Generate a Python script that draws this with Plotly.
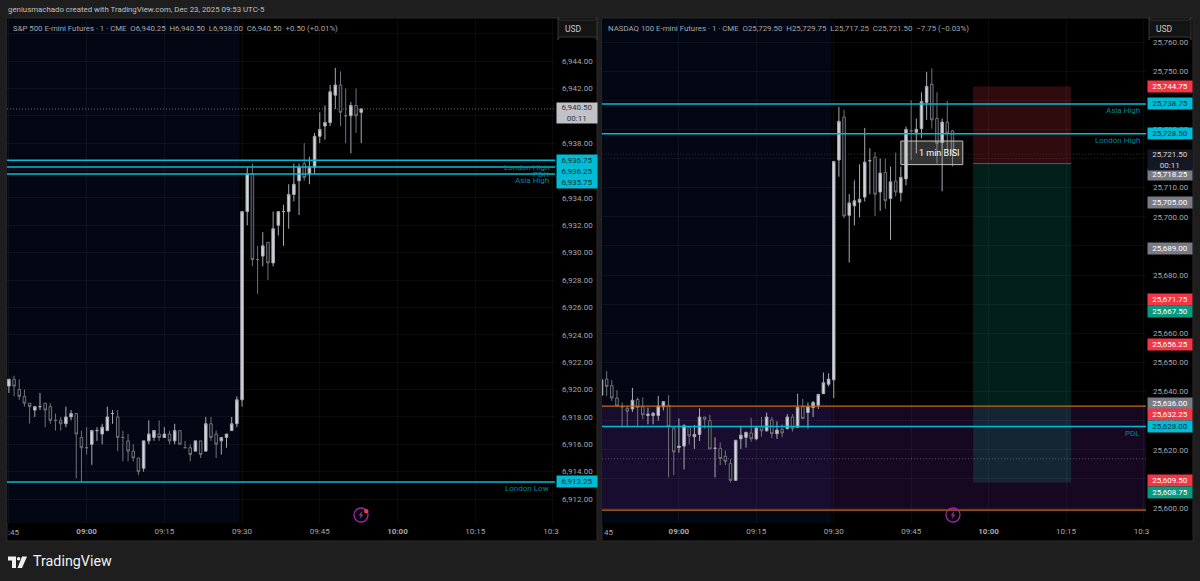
import pandas as pd
import plotly.graph_objects as go
from plotly.subplots import make_subplots

W = 1200
H = 581

# 1分足 08:45 から 09:53 まで
times = pd.date_range("2025-12-23 08:45", periods=69, freq="min")

# S&P 500
es_open = [6920.25, 6920.75, 6920.0, 6919.5, 6919.0, 6918.5, 6918.75, 6919.0, 6918.75, 6917.75, 6917.75, 6917.5, 6918.0, 6918.25, 6916.5, 6915.75, 6916.0, 6917.0, 6916.75, 6917.0, 6918.25, 6918.0, 6916.5, 6916.25, 6915.5, 6915.0, 6914.25, 6916.25, 6916.5, 6916.75, 6916.5, 6916.75, 6916.25, 6917.0, 6915.75, 6915.75, 6915.5, 6916.25, 6915.5, 6917.5, 6916.75, 6916.25, 6916.5, 6917.0, 6917.5, 6919.25, 6933.0, 6935.75, 6929.5, 6929.75, 6930.75, 6929.25, 6932.0, 6933.0, 6933.0, 6934.25, 6935.25, 6936.5, 6935.75, 6936.25, 6938.5, 6939.25, 6939.5, 6941.5, 6942.25, 6940.0, 6940.0, 6940.75, 6940.25]
es_high = [6920.75, 6921.0, 6920.75, 6920.0, 6919.0, 6918.75, 6919.75, 6919.0, 6919.0, 6918.25, 6918.0, 6918.75, 6918.5, 6918.25, 6917.0, 6917.25, 6917.0, 6917.25, 6917.5, 6918.75, 6918.5, 6918.5, 6917.0, 6916.75, 6916.0, 6915.0, 6916.25, 6917.75, 6917.0, 6917.75, 6917.25, 6917.0, 6917.5, 6917.0, 6916.25, 6916.0, 6916.25, 6916.25, 6918.0, 6918.0, 6917.0, 6916.5, 6916.75, 6918.0, 6919.5, 6933.0, 6936.25, 6936.5, 6930.5, 6931.5, 6930.75, 6933.0, 6933.0, 6933.5, 6935.0, 6936.5, 6936.5, 6938.0, 6937.0, 6938.75, 6940.25, 6940.75, 6942.25, 6943.5, 6943.25, 6942.0, 6941.0, 6942.0, 6940.5]
es_low = [6919.75, 6919.5, 6919.25, 6918.75, 6917.5, 6918.0, 6918.5, 6917.25, 6917.5, 6917.0, 6917.0, 6917.25, 6917.75, 6913.5, 6913.25, 6915.25, 6914.5, 6916.25, 6916.0, 6917.0, 6917.5, 6915.5, 6914.75, 6914.75, 6914.75, 6913.75, 6914.0, 6916.0, 6916.25, 6916.25, 6916.5, 6916.0, 6916.0, 6916.0, 6915.75, 6914.75, 6915.5, 6915.0, 6915.5, 6916.25, 6915.0, 6915.25, 6915.75, 6917.0, 6917.25, 6918.75, 6932.0, 6929.0, 6927.0, 6929.0, 6928.0, 6929.0, 6931.25, 6930.5, 6931.75, 6933.75, 6932.75, 6935.25, 6935.0, 6935.75, 6938.0, 6938.25, 6939.25, 6940.5, 6939.25, 6938.0, 6937.25, 6938.75, 6938.0]
es_close = [6920.75, 6920.25, 6919.5, 6919.0, 6918.75, 6918.75, 6918.75, 6918.5, 6917.75, 6917.75, 6917.5, 6918.0, 6918.25, 6916.75, 6915.75, 6915.75, 6917.0, 6917.0, 6917.25, 6918.0, 6918.25, 6916.5, 6916.5, 6915.5, 6915.0, 6914.0, 6916.25, 6916.75, 6917.0, 6916.5, 6916.75, 6916.25, 6917.0, 6916.0, 6915.75, 6915.25, 6916.25, 6915.25, 6917.5, 6916.5, 6916.0, 6916.5, 6916.75, 6917.5, 6919.25, 6933.0, 6935.75, 6929.5, 6929.5, 6930.5, 6929.25, 6931.75, 6933.0, 6933.0, 6934.25, 6935.0, 6936.25, 6935.5, 6936.25, 6938.5, 6939.0, 6939.5, 6941.75, 6942.25, 6940.25, 6940.0, 6940.75, 6940.0, 6940.5]

# NASDAQ 100
nq_open = [25638.75, 25644.25, 25642.0, 25637.75, 25634.75, 25634.25, 25634.0, 25637.25, 25634.75, 25631.75, 25631.75, 25631.75, 25634.75, 25635.25, 25627.25, 25620.75, 25621.25, 25627.75, 25624.5, 25625.25, 25631.25, 25630.0, 25620.5, 25620.5, 25617.75, 25615.25, 25609.5, 25623.75, 25624.25, 25625.75, 25623.75, 25628.0, 25626.5, 25630.25, 25625.5, 25627.0, 25627.25, 25631.25, 25627.75, 25634.75, 25632.75, 25634.5, 25635.25, 25639.25, 25642.5, 25644.0, 25719.5, 25734.25, 25700.5, 25703.75, 25705.0, 25706.75, 25719.25, 25720.5, 25708.5, 25715.25, 25706.25, 25712.25, 25708.25, 25713.0, 25729.5, 25729.0, 25730.25, 25739.25, 25745.5, 25733.75, 25725.5, 25732.5, 25729.5]
nq_high = [25645.0, 25647.0, 25644.0, 25640.5, 25636.25, 25634.75, 25641.25, 25638.0, 25638.0, 25634.5, 25633.0, 25638.5, 25636.75, 25638.75, 25628.0, 25630.75, 25628.75, 25628.0, 25628.5, 25634.25, 25631.25, 25632.0, 25624.25, 25622.5, 25619.75, 25616.75, 25623.25, 25628.25, 25626.0, 25631.0, 25628.0, 25631.25, 25632.75, 25631.25, 25629.75, 25628.75, 25632.25, 25632.25, 25639.25, 25637.5, 25636.25, 25636.75, 25639.25, 25646.5, 25646.25, 25719.0, 25737.75, 25736.75, 25707.75, 25712.5, 25718.0, 25730.5, 25723.5, 25722.25, 25720.0, 25720.0, 25717.25, 25722.0, 25717.25, 25731.0, 25740.0, 25733.75, 25742.75, 25749.75, 25751.0, 25742.75, 25733.75, 25739.75, 25729.75]
nq_low = [25636.75, 25638.5, 25636.75, 25634.75, 25628.0, 25628.0, 25633.0, 25628.25, 25630.5, 25628.75, 25628.75, 25630.0, 25633.5, 25610.5, 25611.25, 25619.0, 25613.25, 25621.75, 25620.25, 25623.0, 25627.25, 25620.25, 25610.5, 25614.75, 25614.75, 25608.75, 25609.25, 25620.25, 25620.75, 25622.75, 25623.25, 25624.5, 25626.25, 25624.0, 25623.75, 25624.25, 25627.0, 25626.25, 25627.5, 25630.5, 25627.25, 25631.25, 25634.0, 25639.25, 25641.75, 25637.75, 25713.75, 25699.5, 25684.25, 25697.0, 25699.75, 25705.25, 25707.75, 25700.25, 25702.0, 25702.75, 25692.0, 25707.0, 25705.25, 25710.75, 25719.5, 25721.75, 25727.0, 25733.25, 25730.25, 25718.25, 25708.75, 25721.75, 25717.25]
nq_close = [25644.0, 25641.75, 25637.75, 25635.0, 25634.75, 25633.25, 25637.0, 25634.5, 25632.0, 25632.25, 25632.5, 25635.0, 25636.5, 25628.0, 25619.25, 25621.25, 25628.25, 25624.75, 25625.25, 25631.25, 25630.5, 25620.25, 25620.5, 25617.0, 25616.0, 25609.5, 25623.25, 25625.0, 25626.0, 25623.75, 25627.5, 25626.5, 25631.25, 25625.5, 25626.75, 25625.75, 25631.25, 25627.25, 25634.5, 25630.75, 25634.75, 25636.25, 25639.0, 25643.0, 25644.25, 25719.0, 25732.75, 25700.25, 25704.75, 25705.5, 25706.0, 25718.75, 25719.25, 25707.75, 25715.0, 25705.5, 25712.0, 25708.5, 25713.5, 25730.0, 25729.5, 25730.0, 25739.5, 25744.75, 25733.25, 25725.25, 25732.5, 25728.75, 25721.5]

# ラベル: (価格, 文字, 背景色, 文字色, ずらし)
CYAN = "#00bcd4"
RED = "#f23645"
TEAL = "#089981"
GRAY = "#787b86"

es_levels = [6936.75, 6936.25, 6935.75, 6913.25]
es_level_names = ["London High", "PDH", "Asia High", "London Low"]
es_tags = [
    (6936.75, "6,936.75", CYAN, "#06323a", 0),
    (6936.25, "6,936.25", CYAN, "#06323a", -4.5),
    (6935.75, "6,935.75", CYAN, "#06323a", -9),
    (6913.25, "6,913.25", CYAN, "#06323a", 0),
]

nq_levels = [25738.75, 25728.5, 25628.0]
nq_level_names = ["Asia High", "London High", "PDL"]
nq_tags = [
    (25744.75, "25,744.75", RED, "#ffffff", 0),
    (25738.75, "25,738.75", CYAN, "#06323a", 0),
    (25728.5, "25,728.50", CYAN, "#06323a", 0),
    (25718.25, "25,718.25", GRAY, "#ffffff", -11),
    (25705.0, "25,705.00", GRAY, "#ffffff", 0),
    (25689.0, "25,689.00", GRAY, "#ffffff", 0),
    (25671.75, "25,671.75", RED, "#ffffff", 0),
    (25667.5, "25,667.50", TEAL, "#ffffff", 0),
    (25656.25, "25,656.25", RED, "#ffffff", 0),
    (25636.0, "25,636.00", GRAY, "#ffffff", 0),
    (25632.25, "25,632.25", RED, "#ffffff", 0),
    (25628.0, "25,628.00", CYAN, "#06323a", 0),
    (25609.5, "25,609.50", RED, "#ffffff", 0),
    (25608.75, "25,608.75", TEAL, "#ffffff", -10),
]

# 時間軸
tick_times = ["2025-12-23 08:45", "2025-12-23 09:00", "2025-12-23 09:15", "2025-12-23 09:30", "2025-12-23 09:45", "2025-12-23 10:00", "2025-12-23 10:15", "2025-12-23 10:30"]
tick_text = ["", "<b>09:00</b>", "09:15", "09:30", "09:45", "<b>10:00</b>", "10:15", "10:3\u00a0\u00a0"]

FONT = "Roboto"
SIZE = 8
AXIS_TEXT = "#a8a8a8"
GRID = "rgba(255,255,255,0.045)"


def px(x):
    return x / W


def py(y):
    return 1 - y / H


fig = make_subplots(rows=1, cols=2)

candle_style = dict(
    increasing=dict(line=dict(color="#a8aab2", width=1), fillcolor="#d4d6dc"),
    decreasing=dict(line=dict(color="#70727b", width=1), fillcolor="#0d0f16"),
    whiskerwidth=0,
    showlegend=False,
)
fig.add_trace(go.Candlestick(x=times, open=es_open, high=es_high, low=es_low, close=es_close, **candle_style), row=1, col=1)
fig.add_trace(go.Candlestick(x=times, open=nq_open, high=nq_high, low=nq_low, close=nq_close, **candle_style), row=1, col=2)

x_style = dict(
    type="date",
    automargin=False,
    rangeslider_visible=False,
    tickmode="array",
    tickvals=tick_times,
    ticktext=tick_text,
    tickangle=0,
    showgrid=True,
    gridcolor=GRID,
    gridwidth=1,
    zeroline=False,
    showline=False,
    ticks="",
    tickfont=dict(family=FONT, size=SIZE, color=AXIS_TEXT),
    ticklabelstandoff=2,
)
y_style = dict(
    side="right",
    automargin=False,
    showgrid=True,
    gridcolor=GRID,
    gridwidth=1,
    zeroline=False,
    showline=False,
    ticks="",
    tickformat=",.2f",
    tickfont=dict(family=FONT, size=SIZE, color=AXIS_TEXT),
    ticklabelstandoff=6,
)

fig.update_layout(
    width=W,
    height=H,
    margin=dict(l=0, r=0, t=0, b=0),
    paper_bgcolor="#1e1e1e",
    plot_bgcolor="#000000",
    showlegend=False,
    xaxis=dict(domain=[px(7), px(555)], range=["2025-12-23 08:44:38", "2025-12-23 10:30:24"], **x_style),
    xaxis2=dict(domain=[px(602), px(1146)], range=["2025-12-23 08:45:06", "2025-12-23 10:30:30"], **x_style),
    yaxis=dict(domain=[py(523), py(19)], range=[6910.25, 6947.07], dtick=2, **y_style),
    yaxis2=dict(domain=[py(523), py(19)], range=[25594.85, 25767.9], dtick=10, **y_style),
)


def paper_rect(x0, y0, x1, y1, fill, line="rgba(0,0,0,0)", layer="below"):
    fig.add_shape(type="rect", xref="paper", yref="paper", x0=px(x0), x1=px(x1), y0=py(y0), y1=py(y1),
                  fillcolor=fill, line=dict(color=line, width=1), layer=layer)


def label(x, y, text, size=SIZE, color=AXIS_TEXT, anchor="left", **kwargs):
    fig.add_annotation(xref="paper", yref="paper", x=px(x), y=py(y), text=text, showarrow=False,
                       xanchor=anchor, yanchor="middle", borderpad=0,
                       font=dict(family=FONT, size=size, color=color), **kwargs)


def price_tag(ya, left, width, price, text, bg, fg, shift):
    fig.add_annotation(xref="paper", yref=ya, x=px(left), y=price, text=text, showarrow=False,
                       xanchor="left", yanchor="middle", yshift=shift, width=width, height=11,
                       align="center", bgcolor=bg, borderpad=0,
                       font=dict(family=FONT, size=SIZE, color=fg))


def round_box(x0, y0, x1, y1, r=3):
    # 角丸の箱
    p = "M {} {} L {} {} Q {} {} {} {} L {} {} Q {} {} {} {} L {} {} Q {} {} {} {} L {} {} Q {} {} {} {} Z".format(
        px(x0 + r), py(y0), px(x1 - r), py(y0), px(x1), py(y0), px(x1), py(y0 + r),
        px(x1), py(y1 - r), px(x1), py(y1), px(x1 - r), py(y1),
        px(x0 + r), py(y1), px(x0), py(y1), px(x0), py(y1 - r),
        px(x0), py(y0 + r), px(x0), py(y0), px(x0 + r), py(y0))
    fig.add_shape(type="path", xref="paper", yref="paper", path=p, fillcolor="#141414",
                  line=dict(color="#363636", width=1), layer="above")


# ペイン枠
paper_rect(7, 18, 597, 541, "#000000", line="#2a2a2a")
paper_rect(602, 18, 1193, 541, "#000000", line="#2a2a2a")

# 時間外の背景
for xr, yr in [("x", "y"), ("x2", "y2")]:
    fig.add_shape(type="rect", xref=xr, yref=yr + " domain", x0="2025-12-23 08:40", x1="2025-12-23 09:29:30",
                  y0=0, y1=1, fillcolor="#030713", line_width=0, layer="below")

# NQ 紫ゾーン
zone_top = 25635.0
zone_bottom = 25599.25
fig.add_shape(type="rect", xref="x2", yref="y2", x0="2025-12-23 08:45:06", x1="2025-12-23 10:30:30", y0=zone_bottom, y1=zone_top,
              fillcolor="rgba(90,30,130,0.25)", line_width=0, layer="below")
for level in [zone_top, zone_bottom]:
    fig.add_shape(type="line", xref="x2", yref="y2", x0="2025-12-23 08:45:06", x1="2025-12-23 10:30:30", y0=level, y1=level,
                  line=dict(color="#c46a15", width=1.2), layer="above")
fig.add_shape(type="line", xref="x2", yref="y2", x0="2025-12-23 08:45:06", x1="2025-12-23 10:30:30", y0=25616.9, y1=25616.9,
              line=dict(color="#55505f", width=1, dash="1px,2px"), layer="below")

# ロングポジション
long_start = "2025-12-23 09:57"
long_end = "2025-12-23 10:16"
long_stop = 25744.75
long_entry = 25718.25
long_target = 25608.75
fig.add_shape(type="rect", xref="x2", yref="y2", x0=long_start, x1=long_end, y0=long_entry, y1=long_stop,
              fillcolor="rgba(242,54,69,0.2)", line_width=0, layer="below")
fig.add_shape(type="rect", xref="x2", yref="y2", x0=long_start, x1=long_end, y0=long_target, y1=long_entry,
              fillcolor="rgba(8,153,129,0.2)", line_width=0, layer="below")
fig.add_shape(type="line", xref="x2", yref="y2", x0=long_start, x1=long_end, y0=long_entry, y1=long_entry,
              line=dict(color="#5a5c64", width=1), layer="above")

# 現在値の点線
fig.add_shape(type="line", xref="x", yref="y", x0="2025-12-23 08:44:38", x1="2025-12-23 10:30:24", y0=6940.5, y1=6940.5,
              line=dict(color="#6a6a6a", width=1, dash="1px,2px"), layer="below")
fig.add_shape(type="line", xref="x2", yref="y2", x0="2025-12-23 08:45:06", x1="2025-12-23 10:30:30", y0=25721.5, y1=25721.5,
              line=dict(color="#2e2e2e", width=1, dash="1px,2px"), layer="below")

# 水平ライン
for level in es_levels:
    fig.add_shape(type="line", xref="x", yref="y", x0="2025-12-23 08:44:38", x1="2025-12-23 10:30:24", y0=level, y1=level,
                  line=dict(color=CYAN, width=1.5), layer="above")
for level in nq_levels:
    fig.add_shape(type="line", xref="x2", yref="y2", x0="2025-12-23 08:45:06", x1="2025-12-23 10:30:30", y0=level, y1=level,
                  line=dict(color=CYAN, width=1.5), layer="above")

# ライン名
for level, name in zip(es_levels, es_level_names):
    fig.add_annotation(xref="paper", yref="y", x=px(551), y=level, yshift=-7, text=name, showarrow=False,
                       xanchor="right", yanchor="middle", font=dict(family=FONT, size=SIZE, color="#00879a"))
for level, name in zip(nq_levels, nq_level_names):
    fig.add_annotation(xref="paper", yref="y2", x=px(1142), y=level, yshift=-7, text=name, showarrow=False,
                       xanchor="right", yanchor="middle", font=dict(family=FONT, size=SIZE, color="#00879a"))

# 1 min BISI
fig.add_shape(type="rect", xref="x2", yref="y2", x0="2025-12-23 09:43", x1="2025-12-23 09:55", y0=25717.9, y1=25726,
              fillcolor="rgba(200,200,200,0.25)", line=dict(color="#c4c4c4", width=1), layer="above")
fig.add_annotation(xref="x2", yref="y2", x="2025-12-23 09:50:20", y=25722, text="1 min BISI", showarrow=False,
                   font=dict(family=FONT, size=9, color="#ffffff"))

# USD ボックス
round_box(558, 37, 597, 20)
round_box(1149, 37, 1191, 20)
label(564, 29, "USD", size=8.5, color="#c8c8c8")
label(1155, 29, "USD", size=8.5, color="#c8c8c8")

# 価格タグ
for price, text, bg, fg, shift in es_tags:
    price_tag("y", 556, 40, price, text, bg, fg, shift)
for price, text, bg, fg, shift in nq_tags:
    price_tag("y2", 1147, 44, price, text, bg, fg, shift)

fig.add_annotation(xref="paper", yref="y", x=px(556), y=6940.5, yshift=-4.5, text="6,940.50<br>00:11", showarrow=False,
                   xanchor="left", yanchor="middle", width=40, height=20, align="center", bgcolor="#c0c2c8", borderpad=0,
                   font=dict(family=FONT, size=SIZE, color="#35353c"))
fig.add_annotation(xref="paper", yref="y2", x=px(1147), y=25721.5, yshift=-5.5, text="25,721.50<br>00:11", showarrow=False,
                   xanchor="left", yanchor="middle", width=44, height=20, align="center", bgcolor="#141824", borderpad=0,
                   font=dict(family=FONT, size=SIZE, color="#d8d8d8"))

# タイトル
label(7, 9.5, "geniusmachado created with TradingView.com, Dec 23, 2025 09:53 UTC-5", size=7.85, color="#c0c0c0")
label(12, 28, "S&P 500 E-mini Futures · 1 · CME  O6,940.25  H6,940.50  L6,938.00  C6,940.50  +0.50 (+0.01%)", size=7.8, color="#a8a8a8")
label(607, 28, "NASDAQ 100 E-mini Futures · 1 · CME  O25,729.50  H25,729.75  L25,717.25  C25,721.50  −7.75 (−0.03%)", size=7.85, color="#a8a8a8")

# 切れた時刻ラベル
label(7, 532, ":45")
label(603, 532, "45")

# 稲妻アイコン
for cx in [361, 953]:
    fig.add_shape(type="circle", xref="paper", yref="paper", x0=px(cx - 7), x1=px(cx + 7), y0=py(522), y1=py(508),
                  line=dict(color="#9c27b0", width=1.3), layer="above")
    bolt = "M {} {} L {} {} L {} {} L {} {} L {} {} L {} {} Z".format(
        px(cx + 1.5), py(510.5), px(cx - 2.5), py(515.5), px(cx - 0.3), py(515.5),
        px(cx - 1.5), py(519.5), px(cx + 2.5), py(514.5), px(cx + 0.3), py(514.5))
    fig.add_shape(type="path", xref="paper", yref="paper", path=bolt, fillcolor="#9c27b0", line_width=0, layer="above")
fig.add_shape(type="circle", xref="paper", yref="paper", x0=px(364), x1=px(368.5), y0=py(513.5), y1=py(509),
              fillcolor=RED, line_width=0, layer="above")

# ロゴ
logo_path = "M {} {} L {} {} L {} {} L {} {} L {} {} L {} {} Z".format(
    px(8), py(556.5), px(16), py(556.5), px(16), py(568), px(12), py(568), px(12), py(560.5), px(8), py(560.5))
fig.add_shape(type="path", xref="paper", yref="paper", path=logo_path, fillcolor="#f0f0f0", line_width=0, layer="above")
fig.add_shape(type="circle", xref="paper", yref="paper", x0=px(16.8), x1=px(20.4), y0=py(560.6), y1=py(557), fillcolor="#f0f0f0", line_width=0, layer="above")
slash_path = "M {} {} L {} {} L {} {} L {} {} Z".format(px(22), py(556.5), px(27), py(556.5), px(22), py(568), px(17.5), py(568))
fig.add_shape(type="path", xref="paper", yref="paper", path=slash_path, fillcolor="#f0f0f0", line_width=0, layer="above")
label(32, 561, "TradingView", size=14.3, color="#f0f0f0", anchor="left")

fig.write_html("out.html", config=dict(displayModeBar=False), post_script="document.body.style.margin='0';")
